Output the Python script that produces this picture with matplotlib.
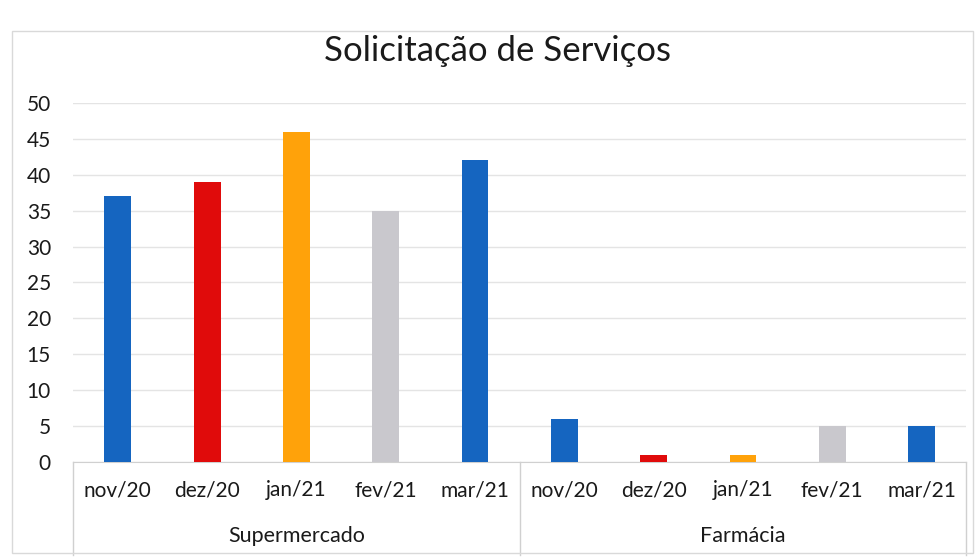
import numpy as np
import matplotlib.pyplot as plt
from matplotlib.transforms import blended_transform_factory

grupos = ["Supermercado", "Farmácia"]
meses = ["nov/20", "dez/20", "jan/21", "fev/21", "mar/21"]
supermercado = [37, 39, 46, 35, 42]
farmacia = [6, 1, 1, 5, 5]
cores = ["#1565C0", "#E00B0B", "#FFA20A", "#C9C8CD", "#1565C0"]

plt.rcParams['font.family'] = ['Lato', 'DejaVu Sans']

fig = plt.figure(figsize=(9.76, 5.59), dpi=100)
ax = fig.add_axes([0.075, 0.1735, 0.915, 0.6425])

valores = supermercado + farmacia
rotulos = meses + meses
x = np.arange(len(valores))
ax.bar(x, valores, width=0.3, color=cores + cores, zorder=3)

ax.set_xlim(-0.5, len(valores) - 0.5)
ax.set_ylim(0, 50)
ax.set_yticks(range(0, 51, 5))
ax.yaxis.grid(True, color="#e4e4e4", linewidth=1)
ax.set_axisbelow(True)
for s in ["top", "right", "left"]:
    ax.spines[s].set_visible(False)
ax.spines["bottom"].set_color("#d0d0d0")
ax.tick_params(axis="y", length=0, labelsize=15, pad=16, colors="#1a1a1a")
ax.set_xticks(x)
ax.set_xticklabels(rotulos)
ax.tick_params(axis="x", length=0, labelsize=15, pad=13, colors="#1a1a1a")

# rotulos dos grupos e divisorias
trans = blended_transform_factory(ax.transData, ax.transAxes)
for i, g in enumerate(grupos):
    centro = i * len(meses) + (len(meses) - 1) / 2
    ax.text(centro, -0.205, g, transform=trans, ha="center", va="center",
            fontsize=15.5, color="#1a1a1a")
for xs in [-0.5, len(meses) - 0.5, len(valores) - 0.5]:
    ax.plot([xs, xs], [0, -0.26], transform=trans, color="#d0d0d0",
            linewidth=1, clip_on=False)

fig.text(0.51, 0.908, "Solicitação de Serviços", ha="center", va="center",
         fontsize=25, color="#1a1a1a")

fig.patches.append(plt.Rectangle((0.012, 0.01), 0.985, 0.935, transform=fig.transFigure,
                                 fill=False, edgecolor="#d9d9d9", linewidth=1))

fig.savefig("out.png", dpi=100, facecolor="white")
